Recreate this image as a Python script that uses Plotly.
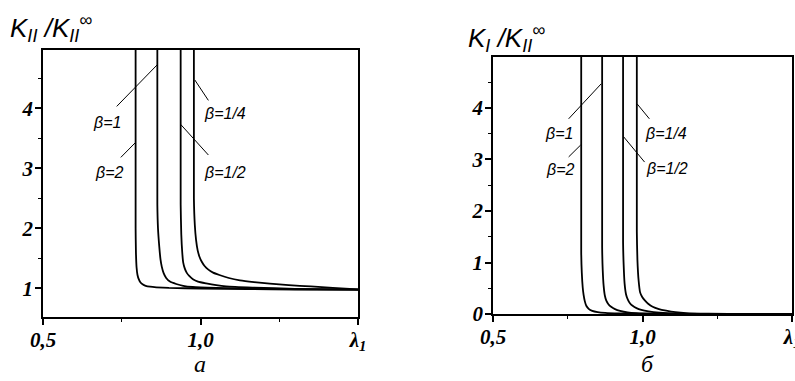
import plotly.graph_objects as go

# ---- panel (а): K_II / K_II^inf versus lambda_1 ----
lam_a_b2 = [0.794, 0.794, 0.795, 0.797, 0.800, 0.804, 0.809, 0.816, 0.826, 0.840, 0.860, 0.900, 1.000, 1.150, 1.300, 1.500]
k_a_b2 = [5.0, 2.0, 1.6, 1.35, 1.22, 1.15, 1.10, 1.065, 1.04, 1.025, 1.015, 1.005, 0.995, 0.985, 0.978, 0.975]

lam_a_b1 = [0.863, 0.863, 0.865, 0.869, 0.873, 0.877, 0.883, 0.891, 0.903, 0.923, 0.945, 0.975, 1.050, 1.200, 1.350, 1.500]
k_a_b1 = [5.0, 2.4, 2.0, 1.7, 1.48, 1.36, 1.25, 1.17, 1.11, 1.07, 1.04, 1.02, 1.005, 0.99, 0.98, 0.975]

lam_a_b05 = [0.937, 0.937, 0.939, 0.942, 0.945, 0.950, 0.956, 0.965, 0.976, 0.992, 1.018, 1.050, 1.081, 1.165, 1.300, 1.500]
k_a_b05 = [5.0, 2.4, 1.9, 1.6, 1.43, 1.33, 1.26, 1.2, 1.15, 1.11, 1.08, 1.05, 1.03, 1.01, 0.99, 0.976]

lam_a_b025 = [0.979, 0.979, 0.982, 0.986, 0.991, 0.997, 1.004, 1.013, 1.025, 1.040, 1.060, 1.090, 1.125, 1.170, 1.220, 1.280, 1.350, 1.420, 1.500]
k_a_b025 = [5.0, 2.5, 2.05, 1.8, 1.63, 1.52, 1.44, 1.37, 1.31, 1.26, 1.22, 1.17, 1.13, 1.10, 1.075, 1.05, 1.03, 1.005, 0.98]

# ---- panel (б): K_I / K_II^inf versus lambda_1 ----
lam_b_b2 = [0.795, 0.795, 0.797, 0.800, 0.803, 0.807, 0.812, 0.820, 0.832, 0.850, 0.875, 0.920, 1.000, 1.200, 1.500]
k_b_b2 = [5.0, 1.2, 0.8, 0.52, 0.37, 0.25, 0.16, 0.10, 0.06, 0.035, 0.02, 0.01, 0.005, 0.002, 0.0]

lam_b_b1 = [0.865, 0.865, 0.867, 0.870, 0.874, 0.879, 0.886, 0.895, 0.908, 0.925, 0.950, 0.980, 1.030, 1.200, 1.500]
k_b_b1 = [5.0, 1.3, 0.85, 0.55, 0.36, 0.26, 0.19, 0.14, 0.095, 0.06, 0.03, 0.015, 0.006, 0.002, 0.0]

lam_b_b05 = [0.935, 0.935, 0.937, 0.940, 0.945, 0.951, 0.958, 0.967, 0.980, 0.996, 1.020, 1.057, 1.120, 1.250, 1.500]
k_b_b05 = [5.0, 1.4, 0.95, 0.6, 0.38, 0.28, 0.21, 0.16, 0.115, 0.08, 0.05, 0.025, 0.008, 0.002, 0.0]

lam_b_b025 = [0.981, 0.981, 0.983, 0.987, 0.992, 0.999, 1.007, 1.019, 1.034, 1.055, 1.079, 1.110, 1.146, 1.220, 1.350, 1.500]
k_b_b025 = [5.0, 1.6, 1.05, 0.65, 0.42, 0.33, 0.27, 0.20, 0.14, 0.095, 0.065, 0.035, 0.015, 0.005, 0.001, 0.0]

# ---- ticks and labels ----
x_tickvals = [0.5, 1.0, 1.5]
x_ticktext = ["0,5", "1,0", "λ<sub>1</sub>"]
x_minor = [0.75, 1.25]
ya_tickvals = [1, 2, 3, 4]
ya_minor = [1.5, 2.5, 3.5, 4.5]
yb_tickvals = [0, 1, 2, 3, 4]
yb_minor = [0.5, 1.5, 2.5, 3.5, 4.5]
beta_labels = ["β=2", "β=1", "β=1/2", "β=1/4"]

curves_a = [(lam_a_b2, k_a_b2), (lam_a_b1, k_a_b1), (lam_a_b05, k_a_b05), (lam_a_b025, k_a_b025)]
curves_b = [(lam_b_b2, k_b_b2), (lam_b_b1, k_b_b1), (lam_b_b05, k_b_b05), (lam_b_b025, k_b_b025)]

fig = go.Figure()
for (lx, ky), name in zip(curves_a, beta_labels):
    fig.add_trace(go.Scatter(x=lx, y=ky, mode="lines", name=name, xaxis="x", yaxis="y",
                             line=dict(color="black", width=1.8, shape="spline", smoothing=0.5)))
for (lx, ky), name in zip(curves_b, beta_labels):
    fig.add_trace(go.Scatter(x=lx, y=ky, mode="lines", name=name, xaxis="x2", yaxis="y2",
                             line=dict(color="black", width=1.8, shape="spline", smoothing=0.5)))

tick_font = dict(family="Liberation Serif", size=21, color="black", style="italic", weight="bold")


def x_axis(domain, anchor):
    return dict(domain=domain, anchor=anchor, range=[0.5, 1.5], tickvals=x_tickvals, ticktext=x_ticktext,
                ticks="outside", ticklen=6, tickwidth=1.5, tickcolor="black", automargin=False,
                ticklabeloverflow="allow", ticklabelstandoff=-3,
                showline=True, linewidth=1.5, linecolor="black", mirror=True,
                showgrid=False, zeroline=False, tickfont=tick_font,
                minor=dict(tickvals=x_minor, ticks="outside", ticklen=3, tickwidth=1.2, tickcolor="black"))


def y_axis(domain, anchor, rng, vals, minor):
    return dict(domain=domain, anchor=anchor, range=rng, tickvals=vals,
                ticks="outside", ticklen=6, tickwidth=1.5, tickcolor="black", automargin=False,
                ticklabeloverflow="allow", ticklabelstandoff=-2,
                showline=True, linewidth=1.5, linecolor="black", mirror=True,
                showgrid=False, zeroline=False, tickfont=tick_font,
                minor=dict(tickvals=minor, ticks="outside", ticklen=3, tickwidth=1.2, tickcolor="black"))


# leader lines from each beta label to its curve (data coordinates)
leaders_a = [((0.747, 3.18), (0.794, 3.43)), ((0.734, 4.03), (0.862, 4.72)),
             ((1.025, 3.22), (0.937, 3.73)), ((1.025, 4.13), (0.982, 4.47))]
text_pos_a = [(0.709, 2.93), (0.703, 3.77), (1.078, 2.93), (1.079, 3.92)]
leaders_b = [((0.753, 3.05), (0.793, 3.28)), ((0.753, 3.79), (0.862, 4.47)),
             ((1.007, 2.95), (0.937, 3.44)), ((1.023, 3.79), (0.982, 4.08))]
text_pos_b = [(0.723, 2.80), (0.72, 3.5), (1.083, 2.83), (1.08, 3.5)]

shapes = []
annotations = []
label_font = dict(family="Liberation Sans", size=16, color="black", style="italic")
for (p0, p1), (tx, ty), lab in zip(leaders_a, text_pos_a, beta_labels):
    shapes.append(dict(type="line", xref="x", yref="y", x0=p0[0], y0=p0[1], x1=p1[0], y1=p1[1],
                       line=dict(color="black", width=1)))
    annotations.append(dict(xref="x", yref="y", x=tx, y=ty, text=lab, showarrow=False, font=label_font))
for (p0, p1), (tx, ty), lab in zip(leaders_b, text_pos_b, beta_labels):
    shapes.append(dict(type="line", xref="x2", yref="y2", x0=p0[0], y0=p0[1], x1=p1[0], y1=p1[1],
                       line=dict(color="black", width=1)))
    annotations.append(dict(xref="x2", yref="y2", x=tx, y=ty, text=lab, showarrow=False, font=label_font))

title_font = dict(family="Liberation Sans", size=26, color="black", style="italic")
annotations += [
    dict(xref="paper", yref="paper", x=8 / 795, y=1 - 28 / 381, xanchor="left", yanchor="middle",
         text="K<sub>II</sub> /K<sub>II</sub><sup>∞</sup>", showarrow=False, font=title_font),
    dict(xref="paper", yref="paper", x=466 / 795, y=1 - 38 / 381, xanchor="left", yanchor="middle",
         text="K<sub>I</sub> /K<sub>II</sub><sup>∞</sup>", showarrow=False, font=title_font),
    dict(xref="paper", yref="paper", x=200 / 795, y=1 - 364 / 381, xanchor="center", yanchor="middle",
         text="а", showarrow=False,
         font=dict(family="Liberation Serif", size=24, color="black", style="italic")),
    dict(xref="paper", yref="paper", x=647 / 795, y=1 - 364 / 381, xanchor="center", yanchor="middle",
         text="б", showarrow=False,
         font=dict(family="Liberation Serif", size=24, color="black", style="italic")),
]

fig.update_layout(
    width=795, height=381, margin=dict(l=0, r=0, t=0, b=0),
    paper_bgcolor="white", plot_bgcolor="white", showlegend=False,
    xaxis=x_axis([43 / 795, 358 / 795], "y"),
    yaxis=y_axis([1 - 317 / 381, 1 - 50 / 381], "x", [0.52, 4.97], ya_tickvals, ya_minor),
    xaxis2=x_axis([493 / 795, 792 / 795], "y2"),
    yaxis2=y_axis([1 - 314 / 381, 1 - 57 / 381], "x2", [0, 4.99], yb_tickvals, yb_minor),
    shapes=shapes, annotations=annotations,
)

fig.write_html("out.html")
